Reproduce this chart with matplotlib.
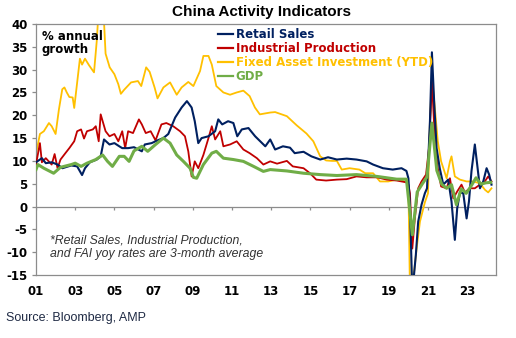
import matplotlib
matplotlib.use("Agg")
import matplotlib.pyplot as plt

# ---------------- data (decimal years, % yoy) ----------------
retail_t = [2001.0, 2001.3, 2001.5, 2001.8, 2002.1, 2002.35, 2002.8, 2003.1, 2003.35, 2003.5,
            2003.75, 2004.1, 2004.3, 2004.47, 2004.75, 2005.0, 2005.25, 2005.4, 2005.7, 2006.0,
            2006.4, 2006.55, 2006.9, 2007.2, 2007.5, 2007.75, 2008.1, 2008.43, 2008.7, 2008.94,
            2009.1, 2009.28, 2009.45, 2009.8, 2010.14, 2010.3, 2010.5, 2010.8, 2011.07, 2011.27,
            2011.5, 2011.84, 2012.18, 2012.44, 2012.7, 2012.95, 2013.2, 2013.6, 2013.96, 2014.2,
            2014.65, 2015.05, 2015.5, 2015.9, 2016.35, 2016.85, 2017.35, 2017.87, 2018.2, 2018.7,
            2019.2, 2019.65, 2019.9, 2020.0, 2020.08, 2020.2, 2020.38, 2020.5, 2020.67, 2020.84,
            2020.95, 2021.1, 2021.2, 2021.32, 2021.44, 2021.6, 2021.78, 2022.03, 2022.2, 2022.37,
            2022.49, 2022.63, 2022.8, 2022.97, 2023.09, 2023.22, 2023.39, 2023.51, 2023.65, 2023.82,
            2023.99, 2024.12, 2024.24]
retail_v = [9.7, 10.6, 9.5, 9.7, 9.2, 8.4, 9.0, 8.8, 6.9, 8.4,
            9.7, 10.3, 11.0, 14.7, 13.6, 13.9, 13.2, 12.8, 12.8, 13.0,
            12.1, 13.6, 13.9, 14.5, 15.0, 15.9, 19.5, 21.7, 23.1, 21.7,
            18.7, 13.9, 15.0, 15.4, 16.5, 19.1, 18.0, 18.7, 18.3, 15.4,
            16.9, 17.2, 15.4, 14.3, 13.2, 14.7, 12.5, 13.2, 12.9, 11.7,
            12.0, 11.0, 10.3, 10.8, 10.3, 10.5, 10.3, 9.9, 9.2, 8.4,
            8.1, 8.4, 7.8, 6.2, 0.0, -19.0, -10.6, -3.3, 0.4, 2.9,
            4.0, 18.7, 33.8, 22.5, 12.8, 8.4, 4.8, 5.9, 1.1, -7.3,
            -0.4, 3.1, 2.9, -2.6, 1.1, 7.8, 13.6, 9.2, 4.0, 5.5,
            8.4, 7.0, 4.8]

ip_t = [2001.0, 2001.2, 2001.3, 2001.5, 2001.8, 2001.95, 2002.1, 2002.25, 2002.5, 2002.7,
        2002.95, 2003.1, 2003.3, 2003.45, 2003.6, 2003.9, 2004.05, 2004.2, 2004.3, 2004.55,
        2004.75, 2005.0, 2005.2, 2005.4, 2005.55, 2005.7, 2005.95, 2006.25, 2006.4, 2006.6,
        2006.85, 2007.1, 2007.4, 2007.65, 2008.0, 2008.35, 2008.6, 2008.77, 2008.94, 2009.1,
        2009.28, 2009.54, 2009.8, 2009.97, 2010.14, 2010.4, 2010.56, 2010.9, 2011.24, 2011.58,
        2011.9, 2012.27, 2012.6, 2012.95, 2013.3, 2013.8, 2014.1, 2014.65, 2014.98, 2015.3,
        2015.8, 2016.35, 2016.85, 2017.35, 2017.87, 2018.4, 2018.9, 2019.4, 2019.9, 2020.0,
        2020.08, 2020.2, 2020.33, 2020.5, 2020.67, 2020.9, 2021.07, 2021.2, 2021.33, 2021.5,
        2021.67, 2021.95, 2022.12, 2022.29, 2022.49, 2022.71, 2022.88, 2023.14, 2023.39, 2023.65,
        2023.9, 2024.07, 2024.24]
ip_v = [9.2, 13.9, 9.7, 10.6, 9.2, 11.5, 8.4, 10.3, 11.7, 12.8,
        14.3, 16.5, 16.9, 14.9, 16.5, 16.9, 17.6, 14.3, 20.2, 16.5,
        15.4, 15.9, 14.3, 16.5, 12.8, 16.5, 16.1, 19.1, 18.0, 16.1,
        16.5, 14.5, 18.0, 18.3, 17.6, 16.5, 15.4, 12.1, 6.6, 9.9,
        8.4, 11.3, 15.0, 17.6, 14.7, 16.5, 13.2, 13.6, 14.3, 12.5,
        11.7, 10.6, 9.2, 9.9, 9.4, 10.0, 8.8, 8.4, 7.3, 5.9,
        5.7, 5.9, 6.0, 6.6, 6.4, 6.4, 5.9, 5.7, 5.3, 4.8,
        2.9, -9.2, -2.6, 4.0, 5.5, 7.0, 13.6, 27.5, 16.5, 8.4,
        4.4, 4.0, 6.2, 1.8, 3.3, 4.8, 3.1, 4.0, 4.0, 4.8,
        5.5, 6.6, 5.5]

fai_t = [2001.0, 2001.2, 2001.4, 2001.66, 2001.8, 2002.0, 2002.17, 2002.34, 2002.45, 2002.57,
         2002.7, 2002.87, 2002.95, 2003.24, 2003.35, 2003.5, 2003.7, 2003.96, 2004.1, 2004.25,
         2004.47, 2004.55, 2004.76, 2005.0, 2005.2, 2005.33, 2005.5, 2005.85, 2006.2, 2006.37,
         2006.62, 2006.8, 2007.05, 2007.2, 2007.5, 2007.84, 2008.18, 2008.43, 2008.77, 2009.03,
         2009.37, 2009.54, 2009.8, 2009.97, 2010.2, 2010.56, 2010.9, 2011.24, 2011.58, 2011.9,
         2012.17, 2012.42, 2012.95, 2013.2, 2013.8, 2014.3, 2014.8, 2015.15, 2015.5, 2015.8,
         2016.1, 2016.35, 2016.6, 2017.0, 2017.5, 2017.8, 2018.2, 2018.55, 2018.97, 2019.5,
         2019.9, 2020.0, 2020.1, 2020.2, 2020.3, 2020.42, 2020.59, 2020.84, 2021.0, 2021.1,
         2021.2, 2021.33, 2021.5, 2021.67, 2021.95, 2022.12, 2022.2, 2022.37, 2022.63, 2022.97,
         2023.3, 2023.65, 2023.9, 2024.07, 2024.24]
fai_v = [11.5, 15.9, 16.5, 18.3, 17.6, 15.9, 21.3, 25.7, 26.1, 25.0,
         24.0, 23.9, 21.6, 32.4, 31.1, 32.4, 31.0, 29.4, 36.3, 47.0,
         40.5, 33.5, 30.5, 29.0, 26.8, 24.7, 25.6, 27.2, 27.5, 26.4,
         30.5, 29.5, 26.1, 23.7, 26.1, 27.2, 24.5, 26.1, 27.3, 26.4,
         29.7, 33.0, 33.0, 31.1, 26.4, 25.0, 24.5, 25.0, 25.4, 24.2,
         21.7, 20.2, 20.6, 20.7, 19.8, 17.8, 16.0, 14.3, 11.0, 10.1,
         10.0, 10.0, 8.1, 8.4, 8.1, 7.3, 7.3, 5.5, 5.5, 6.0,
         5.3, 4.8, -24.5, -16.0, -14.0, -9.2, -3.3, 0.9, 2.9, 18.7,
         28.3, 22.5, 14.3, 9.9, 6.2, 9.9, 11.0, 6.6, 5.9, 5.5,
         5.5, 5.1, 3.7, 3.1, 4.0]

gdp_t = [2001.0, 2001.1, 2001.4, 2001.9, 2002.25, 2002.8, 2003.0, 2003.3, 2003.6, 2004.05,
         2004.4, 2004.65, 2004.9, 2005.25, 2005.5, 2005.75, 2006.0, 2006.4, 2006.7, 2007.1,
         2007.5, 2007.84, 2008.18, 2008.52, 2008.86, 2009.03, 2009.2, 2009.54, 2009.97, 2010.2,
         2010.56, 2011.07, 2011.58, 2012.1, 2012.6, 2012.95, 2013.8, 2014.65, 2015.5, 2016.35,
         2017.35, 2018.4, 2019.4, 2019.9, 2020.2, 2020.45, 2020.7, 2020.95, 2021.2, 2021.45,
         2021.7, 2021.95, 2022.2, 2022.45, 2022.7, 2022.95, 2023.2, 2023.45, 2023.7, 2023.95,
         2024.2]
gdp_v = [8.1, 9.2, 8.4, 7.3, 8.6, 9.2, 9.5, 8.8, 9.5, 10.3,
         11.3, 9.9, 8.8, 11.0, 11.0, 9.9, 12.2, 13.2, 12.1, 13.6,
         15.0, 13.9, 11.3, 9.9, 8.4, 6.4, 6.2, 9.2, 11.7, 12.1,
         10.6, 10.3, 9.9, 8.8, 7.7, 8.1, 7.8, 7.3, 7.0, 6.8,
         7.0, 6.6, 6.0, 6.0, -6.2, 3.2, 4.9, 6.5, 18.3, 7.9,
         4.9, 4.0, 4.8, 0.4, 3.9, 2.9, 4.5, 6.3, 4.9, 5.2,
         5.3]

xtick_years = [2001, 2003, 2005, 2007, 2009, 2011, 2013, 2015, 2017, 2019, 2021, 2023]
xtick_labels = ["01", "03", "05", "07", "09", "11", "13", "15", "17", "19", "21", "23"]
yticks = [-15, -10, -5, 0, 5, 10, 15, 20, 25, 30, 35, 40]

C_RETAIL = "#002060"
C_IP = "#C00000"
C_FAI = "#FFC000"
C_GDP = "#70AD47"
GREY = "#8C8C8C"

# ---------------- figure ----------------
fig = plt.figure(figsize=(5.16, 3.38), dpi=100)
ax = fig.add_axes([36/516, 1 - 275/338, 460/516, 251/338])

ax.plot(fai_t, fai_v, color=C_FAI, lw=1.3, label="Fixed Asset Investment (YTD)", zorder=2)
ax.plot(ip_t, ip_v, color=C_IP, lw=1.3, label="Industrial Production", zorder=3)
ax.plot(retail_t, retail_v, color=C_RETAIL, lw=1.5, label="Retail Sales", zorder=4)
ax.plot(gdp_t, gdp_v, color=C_GDP, lw=2.2, label="GDP", zorder=5)

ax.set_xlim(2001.0, 2024.47)
ax.set_ylim(-15, 40)
ax.axhline(0, color=GREY, lw=0.9, zorder=1)
ax.vlines(xtick_years, -0.7, 0, color=GREY, lw=0.9, zorder=1)

for s in ax.spines.values():
    s.set_color(GREY)
    s.set_linewidth(0.9)

ax.set_yticks(yticks)
ax.set_yticklabels([str(v) for v in yticks])
ax.set_xticks(xtick_years)
ax.set_xticklabels(xtick_labels)
ax.tick_params(axis="y", direction="out", length=3, color=GREY, width=0.9, pad=3)
ax.tick_params(axis="x", length=0, pad=7)
for lab in ax.get_xticklabels() + ax.get_yticklabels():
    lab.set_fontfamily("DejaVu Sans")
    lab.set_fontweight("bold")
    lab.set_fontsize(8.5)
    lab.set_color("#000000")

# legend
handles, labels = ax.get_legend_handles_labels()
order = [labels.index(n) for n in ["Retail Sales", "Industrial Production",
                                   "Fixed Asset Investment (YTD)", "GDP"]]
leg = ax.legend([handles[i] for i in order], [labels[i] for i in order],
                loc="upper left", bbox_to_anchor=((218 - 36) / 460, (275 - 28) / 251),
                frameon=False, borderpad=0, borderaxespad=0, handlelength=1.25,
                handletextpad=0.25, labelspacing=0.08,
                prop={"family": "DejaVu Sans", "weight": "bold", "size": 8.5})
for txt, i in zip(leg.get_texts(), order):
    txt.set_color(handles[i].get_color())
for ln in leg.get_lines():
    ln.set_linewidth(1.6)

# texts
fig.text(261/516, 1 - 12/338, "China Activity Indicators", ha="center", va="center",
         family="Liberation Sans", weight="bold", fontsize=11)
ax.text((42 - 36) / 460, (275 - 43) / 251, "% annual\ngrowth", transform=ax.transAxes,
        ha="left", va="center", family="DejaVu Sans", weight="bold", fontsize=8.5,
        linespacing=1.05)
ax.text((50 - 36) / 460, (275 - 247) / 251,
        "*Retail Sales, Industrial Production,\nand FAI yoy rates are 3-month average",
        transform=ax.transAxes, ha="left", va="center", family="Liberation Sans",
        style="italic", fontsize=8.8, color="#333333", linespacing=1.15)
fig.text(6/516, 1 - 318/338, "Source: Bloomberg, AMP", ha="left", va="center",
         family="Liberation Sans", fontsize=9, color="#1F2A44")

fig.savefig("out.png", dpi=100)
